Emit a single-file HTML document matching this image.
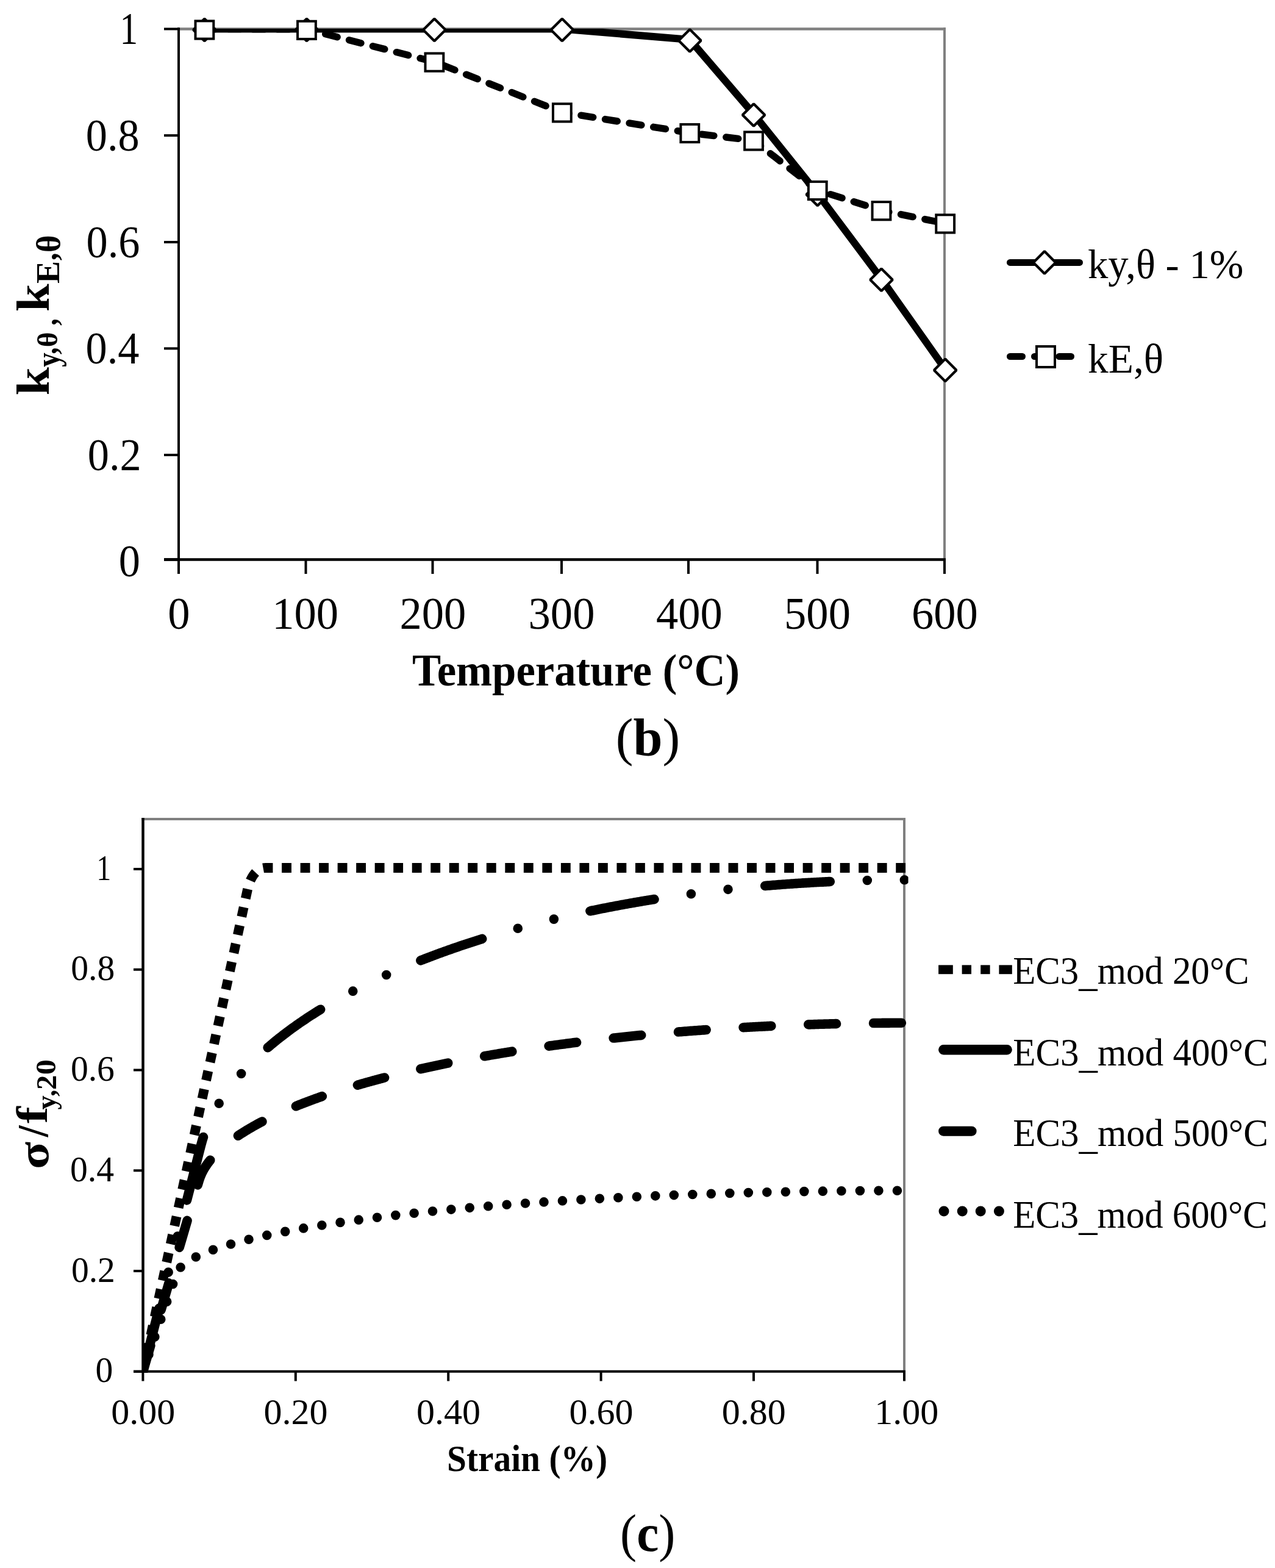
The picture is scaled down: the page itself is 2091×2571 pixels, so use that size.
<!DOCTYPE html>
<html><head><meta charset="utf-8"><title>EC3 reduction factors and stress-strain curves</title>
<style>html,body{margin:0;padding:0;background:#fff}svg{display:block}text{font-family:'Liberation Serif', 'Times New Roman', serif;fill:#000}</style>
</head><body>
<svg width="2091" height="2571" viewBox="0 0 2091 2571">
<rect width="2091" height="2571" fill="#fff"/>
<line x1="291.00" y1="47.50" x2="1551.00" y2="47.50" stroke="#808080" stroke-width="4.5" />
<line x1="1549.00" y1="45.30" x2="1549.00" y2="917.50" stroke="#808080" stroke-width="4" />
<line x1="293.00" y1="45.30" x2="293.00" y2="920.00" stroke="#000" stroke-width="4" />
<line x1="269.00" y1="917.50" x2="1551.00" y2="917.50" stroke="#000" stroke-width="4.5" />
<line x1="269.00" y1="746.00" x2="293.00" y2="746.00" stroke="#000" stroke-width="4" />
<line x1="269.00" y1="571.40" x2="293.00" y2="571.40" stroke="#000" stroke-width="4" />
<line x1="269.00" y1="397.00" x2="293.00" y2="397.00" stroke="#000" stroke-width="4" />
<line x1="269.00" y1="222.10" x2="293.00" y2="222.10" stroke="#000" stroke-width="4" />
<line x1="269.00" y1="47.50" x2="293.00" y2="47.50" stroke="#000" stroke-width="4" />
<line x1="269.00" y1="917.50" x2="293.00" y2="917.50" stroke="#000" stroke-width="4.5" />
<line x1="293.00" y1="917.50" x2="293.00" y2="941.00" stroke="#000" stroke-width="4" />
<line x1="501.50" y1="917.50" x2="501.50" y2="941.00" stroke="#000" stroke-width="4" />
<line x1="709.50" y1="917.50" x2="709.50" y2="941.00" stroke="#000" stroke-width="4" />
<line x1="921.00" y1="917.50" x2="921.00" y2="941.00" stroke="#000" stroke-width="4" />
<line x1="1129.00" y1="917.50" x2="1129.00" y2="941.00" stroke="#000" stroke-width="4" />
<line x1="1340.50" y1="917.50" x2="1340.50" y2="941.00" stroke="#000" stroke-width="4" />
<line x1="1549.00" y1="917.50" x2="1549.00" y2="941.00" stroke="#000" stroke-width="4" />
<clipPath id="cb"><rect x="293" y="47" width="1258" height="872"/></clipPath>
<polyline points="335.39,47.50 502.95,47.90 712.40,101.50 921.85,184.20 1131.30,217.90 1236.03,230.40 1340.75,311.90 1445.47,345.10 1550.20,366.30" fill="none" stroke="#000" stroke-width="11.4" stroke-linecap="round" stroke-linejoin="round" stroke-dasharray="20.05 20.05" stroke-dashoffset="1.2" clip-path="url(#cb)"/>
<polyline points="335.39,47.50 502.95,47.50 712.40,47.50 921.85,47.50 1131.30,65.00 1236.03,187.00 1340.75,317.50 1445.47,457.30 1550.20,605.40" fill="none" stroke="#000" stroke-width="12" stroke-linejoin="round" clip-path="url(#cb)"/>
<path d="M335.39,30.70L353.69,49.00L335.39,67.30L317.09,49.00Z" fill="#fff" stroke="#000" stroke-width="4.3" stroke-miterlimit="1.3"/>
<path d="M502.95,30.70L521.25,49.00L502.95,67.30L484.65,49.00Z" fill="#fff" stroke="#000" stroke-width="4.3" stroke-miterlimit="1.3"/>
<path d="M712.40,30.70L730.70,49.00L712.40,67.30L694.10,49.00Z" fill="#fff" stroke="#000" stroke-width="4.3" stroke-miterlimit="1.3"/>
<path d="M921.85,30.70L940.15,49.00L921.85,67.30L903.55,49.00Z" fill="#fff" stroke="#000" stroke-width="4.3" stroke-miterlimit="1.3"/>
<path d="M1131.30,48.20L1149.60,66.50L1131.30,84.80L1113.00,66.50Z" fill="#fff" stroke="#000" stroke-width="4.3" stroke-miterlimit="1.3"/>
<path d="M1236.03,170.20L1254.33,188.50L1236.03,206.80L1217.73,188.50Z" fill="#fff" stroke="#000" stroke-width="4.3" stroke-miterlimit="1.3"/>
<path d="M1340.75,300.70L1359.05,319.00L1340.75,337.30L1322.45,319.00Z" fill="#fff" stroke="#000" stroke-width="4.3" stroke-miterlimit="1.3"/>
<path d="M1445.47,440.50L1463.77,458.80L1445.47,477.10L1427.17,458.80Z" fill="#fff" stroke="#000" stroke-width="4.3" stroke-miterlimit="1.3"/>
<path d="M1550.20,588.60L1568.50,606.90L1550.20,625.20L1531.90,606.90Z" fill="#fff" stroke="#000" stroke-width="4.3" stroke-miterlimit="1.3"/>
<rect x="320.49" y="34.40" width="29.8" height="29.2" fill="#fff" stroke="#000" stroke-width="4"/>
<rect x="488.05" y="34.80" width="29.8" height="29.2" fill="#fff" stroke="#000" stroke-width="4"/>
<rect x="697.50" y="87.50" width="29.8" height="29.2" fill="#fff" stroke="#000" stroke-width="4"/>
<rect x="906.95" y="170.20" width="29.8" height="29.2" fill="#fff" stroke="#000" stroke-width="4"/>
<rect x="1116.40" y="203.90" width="29.8" height="29.2" fill="#fff" stroke="#000" stroke-width="4"/>
<rect x="1221.12" y="216.40" width="29.8" height="29.2" fill="#fff" stroke="#000" stroke-width="4"/>
<rect x="1325.85" y="297.90" width="29.8" height="29.2" fill="#fff" stroke="#000" stroke-width="4"/>
<rect x="1430.57" y="331.10" width="29.8" height="29.2" fill="#fff" stroke="#000" stroke-width="4"/>
<rect x="1535.30" y="352.30" width="29.8" height="29.2" fill="#fff" stroke="#000" stroke-width="4"/>
<line x1="1656.50" y1="430.40" x2="1770.50" y2="430.40" stroke="#000" stroke-width="11" stroke-linecap="round"/>
<path d="M1713.00,412.10L1731.30,430.40L1713.00,448.70L1694.70,430.40Z" fill="#fff" stroke="#000" stroke-width="4.3" stroke-miterlimit="1.3"/>
<line x1="1656.50" y1="584.50" x2="1676.50" y2="584.50" stroke="#000" stroke-width="11" stroke-linecap="round"/>
<line x1="1696.50" y1="584.50" x2="1716.50" y2="584.50" stroke="#000" stroke-width="11" stroke-linecap="round"/>
<line x1="1737.00" y1="584.50" x2="1756.50" y2="584.50" stroke="#000" stroke-width="11" stroke-linecap="round"/>
<rect x="1700.00" y="568.00" width="30" height="34" fill="#fff" stroke="#000" stroke-width="4"/>
<line x1="232.00" y1="1343.00" x2="1485.00" y2="1343.00" stroke="#808080" stroke-width="4" />
<line x1="1483.00" y1="1341.00" x2="1483.00" y2="2249.00" stroke="#808080" stroke-width="4" />
<line x1="234.50" y1="1341.00" x2="234.50" y2="2251.00" stroke="#000" stroke-width="4.5" />
<line x1="219.00" y1="2248.80" x2="1485.00" y2="2248.80" stroke="#000" stroke-width="4" />
<line x1="219.00" y1="2248.80" x2="234.50" y2="2248.80" stroke="#000" stroke-width="4" />
<line x1="219.00" y1="2084.04" x2="234.50" y2="2084.04" stroke="#000" stroke-width="4" />
<line x1="219.00" y1="1919.28" x2="234.50" y2="1919.28" stroke="#000" stroke-width="4" />
<line x1="219.00" y1="1754.52" x2="234.50" y2="1754.52" stroke="#000" stroke-width="4" />
<line x1="219.00" y1="1589.76" x2="234.50" y2="1589.76" stroke="#000" stroke-width="4" />
<line x1="219.00" y1="1425.00" x2="234.50" y2="1425.00" stroke="#000" stroke-width="4" />
<line x1="234.40" y1="2248.80" x2="234.40" y2="2264.50" stroke="#000" stroke-width="4" />
<line x1="484.80" y1="2248.80" x2="484.80" y2="2264.50" stroke="#000" stroke-width="4" />
<line x1="735.20" y1="2248.80" x2="735.20" y2="2264.50" stroke="#000" stroke-width="4" />
<line x1="985.60" y1="2248.80" x2="985.60" y2="2264.50" stroke="#000" stroke-width="4" />
<line x1="1236.00" y1="2248.80" x2="1236.00" y2="2264.50" stroke="#000" stroke-width="4" />
<line x1="1483.00" y1="2248.80" x2="1483.00" y2="2264.50" stroke="#000" stroke-width="4" />
<clipPath id="cc"><rect x="234" y="1341" width="1255.5" height="910"/></clipPath>
<path d="M234.40,2248.80 L252.77,2195.25 L271.13,2141.71 L289.50,2088.16 L291.90,2083.26 L294.30,2080.00 L296.69,2077.37 L299.09,2075.11 L301.49,2073.10 L303.89,2071.28 L306.29,2069.59 L308.69,2068.01 L311.09,2066.53 L313.48,2065.13 L315.88,2063.79 L318.28,2062.51 L320.68,2061.29 L323.08,2060.11 L325.48,2058.98 L327.88,2057.88 L330.27,2056.82 L332.67,2055.79 L335.07,2054.79 L337.47,2053.81 L339.87,2052.86 L342.27,2051.94 L344.67,2051.03 L347.06,2050.15 L349.46,2049.29 L351.86,2048.44 L354.26,2047.61 L356.66,2046.80 L359.06,2046.00 L361.46,2045.22 L363.85,2044.45 L366.25,2043.70 L368.65,2042.95 L371.05,2042.22 L373.45,2041.51 L375.85,2040.80 L378.25,2040.10 L380.65,2039.42 L383.04,2038.74 L385.44,2038.07 L387.84,2037.42 L390.24,2036.77 L392.64,2036.13 L395.04,2035.50 L397.44,2034.88 L399.83,2034.26 L402.23,2033.65 L404.63,2033.05 L407.03,2032.46 L409.43,2031.87 L411.83,2031.30 L414.23,2030.72 L416.62,2030.16 L419.02,2029.60 L421.42,2029.04 L423.82,2028.50 L426.22,2027.95 L428.62,2027.42 L431.02,2026.89 L433.41,2026.36 L435.81,2025.84 L438.21,2025.32 L440.61,2024.81 L443.01,2024.31 L445.41,2023.81 L447.81,2023.31 L450.20,2022.82 L452.60,2022.33 L455.00,2021.85 L457.40,2021.37 L459.80,2020.90 L462.20,2020.43 L464.60,2019.96 L466.99,2019.50 L469.39,2019.04 L471.79,2018.59 L474.19,2018.14 L476.59,2017.69 L478.99,2017.25 L481.39,2016.81 L483.78,2016.38 L486.18,2015.94 L488.58,2015.52 L490.98,2015.09 L493.38,2014.67 L495.78,2014.25 L498.18,2013.83 L500.58,2013.42 L502.97,2013.01 L505.37,2012.61 L507.77,2012.20 L510.17,2011.80 L512.57,2011.40 L514.97,2011.01 L517.37,2010.62 L519.76,2010.23 L522.16,2009.84 L524.56,2009.46 L526.96,2009.08 L529.36,2008.70 L531.76,2008.32 L534.16,2007.95 L536.55,2007.58 L538.95,2007.21 L541.35,2006.85 L543.75,2006.48 L546.15,2006.12 L548.55,2005.77 L550.95,2005.41 L553.34,2005.06 L555.74,2004.71 L558.14,2004.36 L560.54,2004.01 L562.94,2003.67 L565.34,2003.32 L567.74,2002.98 L570.13,2002.65 L572.53,2002.31 L574.93,2001.98 L577.33,2001.64 L579.73,2001.31 L582.13,2000.99 L584.53,2000.66 L586.92,2000.34 L589.32,2000.02 L591.72,1999.70 L594.12,1999.38 L596.52,1999.06 L598.92,1998.75 L601.32,1998.44 L603.71,1998.13 L606.11,1997.82 L608.51,1997.51 L610.91,1997.21 L613.31,1996.91 L615.71,1996.60 L618.11,1996.30 L620.51,1996.01 L622.90,1995.71 L625.30,1995.42 L627.70,1995.12 L630.10,1994.83 L632.50,1994.54 L634.90,1994.26 L637.30,1993.97 L639.69,1993.69 L642.09,1993.40 L644.49,1993.12 L646.89,1992.84 L649.29,1992.57 L651.69,1992.29 L654.09,1992.01 L656.48,1991.74 L658.88,1991.47 L661.28,1991.20 L663.68,1990.93 L666.08,1990.66 L668.48,1990.40 L670.88,1990.13 L673.27,1989.87 L675.67,1989.61 L678.07,1989.35 L680.47,1989.09 L682.87,1988.83 L685.27,1988.58 L687.67,1988.32 L690.06,1988.07 L692.46,1987.82 L694.86,1987.57 L697.26,1987.32 L699.66,1987.07 L702.06,1986.82 L704.46,1986.58 L706.85,1986.33 L709.25,1986.09 L711.65,1985.85 L714.05,1985.61 L716.45,1985.37 L718.85,1985.14 L721.25,1984.90 L723.64,1984.66 L726.04,1984.43 L728.44,1984.20 L730.84,1983.97 L733.24,1983.74 L735.64,1983.51 L738.04,1983.28 L740.44,1983.05 L742.83,1982.83 L745.23,1982.61 L747.63,1982.38 L750.03,1982.16 L752.43,1981.94 L754.83,1981.72 L757.23,1981.50 L759.62,1981.29 L762.02,1981.07 L764.42,1980.85 L766.82,1980.64 L769.22,1980.43 L771.62,1980.22 L774.02,1980.01 L776.41,1979.80 L778.81,1979.59 L781.21,1979.38 L783.61,1979.18 L786.01,1978.97 L788.41,1978.77 L790.81,1978.56 L793.20,1978.36 L795.60,1978.16 L798.00,1977.96 L800.40,1977.76 L802.80,1977.57 L805.20,1977.37 L807.60,1977.17 L809.99,1976.98 L812.39,1976.79 L814.79,1976.59 L817.19,1976.40 L819.59,1976.21 L821.99,1976.02 L824.39,1975.83 L826.78,1975.64 L829.18,1975.46 L831.58,1975.27 L833.98,1975.09 L836.38,1974.90 L838.78,1974.72 L841.18,1974.54 L843.57,1974.36 L845.97,1974.18 L848.37,1974.00 L850.77,1973.82 L853.17,1973.64 L855.57,1973.47 L857.97,1973.29 L860.37,1973.12 L862.76,1972.95 L865.16,1972.77 L867.56,1972.60 L869.96,1972.43 L872.36,1972.26 L874.76,1972.09 L877.16,1971.92 L879.55,1971.76 L881.95,1971.59 L884.35,1971.42 L886.75,1971.26 L889.15,1971.10 L891.55,1970.93 L893.95,1970.77 L896.34,1970.61 L898.74,1970.45 L901.14,1970.29 L903.54,1970.13 L905.94,1969.98 L908.34,1969.82 L910.74,1969.66 L913.13,1969.51 L915.53,1969.35 L917.93,1969.20 L920.33,1969.05 L922.73,1968.90 L925.13,1968.75 L927.53,1968.60 L929.92,1968.45 L932.32,1968.30 L934.72,1968.15 L937.12,1968.00 L939.52,1967.86 L941.92,1967.71 L944.32,1967.57 L946.71,1967.42 L949.11,1967.28 L951.51,1967.14 L953.91,1967.00 L956.31,1966.86 L958.71,1966.72 L961.11,1966.58 L963.51,1966.44 L965.90,1966.30 L968.30,1966.17 L970.70,1966.03 L973.10,1965.90 L975.50,1965.76 L977.90,1965.63 L980.30,1965.50 L982.69,1965.37 L985.09,1965.23 L987.49,1965.10 L989.89,1964.97 L992.29,1964.85 L994.69,1964.72 L997.09,1964.59 L999.48,1964.46 L1001.88,1964.34 L1004.28,1964.21 L1006.68,1964.09 L1009.08,1963.96 L1011.48,1963.84 L1013.88,1963.72 L1016.27,1963.60 L1018.67,1963.48 L1021.07,1963.36 L1023.47,1963.24 L1025.87,1963.12 L1028.27,1963.00 L1030.67,1962.89 L1033.06,1962.77 L1035.46,1962.65 L1037.86,1962.54 L1040.26,1962.42 L1042.66,1962.31 L1045.06,1962.20 L1047.46,1962.09 L1049.85,1961.97 L1052.25,1961.86 L1054.65,1961.75 L1057.05,1961.64 L1059.45,1961.54 L1061.85,1961.43 L1064.25,1961.32 L1066.64,1961.21 L1069.04,1961.11 L1071.44,1961.00 L1073.84,1960.90 L1076.24,1960.80 L1078.64,1960.69 L1081.04,1960.59 L1083.44,1960.49 L1085.83,1960.39 L1088.23,1960.29 L1090.63,1960.19 L1093.03,1960.09 L1095.43,1959.99 L1097.83,1959.89 L1100.23,1959.80 L1102.62,1959.70 L1105.02,1959.60 L1107.42,1959.51 L1109.82,1959.41 L1112.22,1959.32 L1114.62,1959.23 L1117.02,1959.14 L1119.41,1959.04 L1121.81,1958.95 L1124.21,1958.86 L1126.61,1958.77 L1129.01,1958.68 L1131.41,1958.60 L1133.81,1958.51 L1136.20,1958.42 L1138.60,1958.33 L1141.00,1958.25 L1143.40,1958.16 L1145.80,1958.08 L1148.20,1958.00 L1150.60,1957.91 L1152.99,1957.83 L1155.39,1957.75 L1157.79,1957.67 L1160.19,1957.59 L1162.59,1957.51 L1164.99,1957.43 L1167.39,1957.35 L1169.78,1957.27 L1172.18,1957.19 L1174.58,1957.12 L1176.98,1957.04 L1179.38,1956.96 L1181.78,1956.89 L1184.18,1956.82 L1186.57,1956.74 L1188.97,1956.67 L1191.37,1956.60 L1193.77,1956.52 L1196.17,1956.45 L1198.57,1956.38 L1200.97,1956.31 L1203.37,1956.24 L1205.76,1956.17 L1208.16,1956.11 L1210.56,1956.04 L1212.96,1955.97 L1215.36,1955.91 L1217.76,1955.84 L1220.16,1955.78 L1222.55,1955.71 L1224.95,1955.65 L1227.35,1955.58 L1229.75,1955.52 L1232.15,1955.46 L1234.55,1955.40 L1236.95,1955.34 L1239.34,1955.28 L1241.74,1955.22 L1244.14,1955.16 L1246.54,1955.10 L1248.94,1955.04 L1251.34,1954.99 L1253.74,1954.93 L1256.13,1954.87 L1258.53,1954.82 L1260.93,1954.76 L1263.33,1954.71 L1265.73,1954.66 L1268.13,1954.60 L1270.53,1954.55 L1272.92,1954.50 L1275.32,1954.45 L1277.72,1954.40 L1280.12,1954.35 L1282.52,1954.30 L1284.92,1954.25 L1287.32,1954.20 L1289.71,1954.15 L1292.11,1954.11 L1294.51,1954.06 L1296.91,1954.02 L1299.31,1953.97 L1301.71,1953.93 L1304.11,1953.88 L1306.50,1953.84 L1308.90,1953.80 L1311.30,1953.75 L1313.70,1953.71 L1316.10,1953.67 L1318.50,1953.63 L1320.90,1953.59 L1323.30,1953.55 L1325.69,1953.51 L1328.09,1953.47 L1330.49,1953.44 L1332.89,1953.40 L1335.29,1953.36 L1337.69,1953.33 L1340.09,1953.29 L1342.48,1953.26 L1344.88,1953.22 L1347.28,1953.19 L1349.68,1953.16 L1352.08,1953.13 L1354.48,1953.09 L1356.88,1953.06 L1359.27,1953.03 L1361.67,1953.00 L1364.07,1952.97 L1366.47,1952.94 L1368.87,1952.92 L1371.27,1952.89 L1373.67,1952.86 L1376.06,1952.83 L1378.46,1952.81 L1380.86,1952.78 L1383.26,1952.76 L1385.66,1952.73 L1388.06,1952.71 L1390.46,1952.69 L1392.85,1952.66 L1395.25,1952.64 L1397.65,1952.62 L1400.05,1952.60 L1402.45,1952.58 L1404.85,1952.56 L1407.25,1952.54 L1409.64,1952.52 L1412.04,1952.51 L1414.44,1952.49 L1416.84,1952.47 L1419.24,1952.45 L1421.64,1952.44 L1424.04,1952.42 L1426.43,1952.41 L1428.83,1952.40 L1431.23,1952.38 L1433.63,1952.37 L1436.03,1952.36 L1438.43,1952.35 L1440.83,1952.33 L1443.23,1952.32 L1445.62,1952.31 L1448.02,1952.30 L1450.42,1952.30 L1452.82,1952.29 L1455.22,1952.28 L1457.62,1952.27 L1460.02,1952.27 L1462.41,1952.26 L1464.81,1952.26 L1467.21,1952.25 L1469.61,1952.25 L1472.01,1952.24 L1474.41,1952.24 L1476.81,1952.24 L1479.20,1952.23 L1481.60,1952.23 L1484.00,1952.23 L1486.40,1952.23" fill="none" stroke="#000" stroke-width="15.6" stroke-linecap="round" stroke-linejoin="round" stroke-dasharray="0 30.520" stroke-dashoffset="1.09" clip-path="url(#cc)"/>
<path d="M234.40,2248.80 L265.04,2144.45 L295.69,2040.10 L326.33,1935.76 L328.66,1929.02 L330.98,1923.69 L333.31,1919.16 L335.63,1915.14 L337.96,1911.49 L340.28,1908.14 L342.61,1905.01 L344.93,1902.07 L347.26,1899.30 L349.58,1896.66 L351.91,1894.14 L354.23,1891.72 L356.56,1889.40 L358.88,1887.16 L361.21,1884.99 L363.53,1882.90 L365.86,1880.87 L368.18,1878.89 L370.51,1876.97 L372.83,1875.10 L375.15,1873.28 L377.48,1871.50 L379.80,1869.76 L382.13,1868.06 L384.45,1866.39 L386.78,1864.76 L389.10,1863.16 L391.43,1861.60 L393.75,1860.06 L396.08,1858.54 L398.40,1857.06 L400.73,1855.60 L403.05,1854.16 L405.38,1852.75 L407.70,1851.36 L410.03,1849.99 L412.35,1848.64 L414.68,1847.32 L417.00,1846.01 L419.33,1844.71 L421.65,1843.44 L423.98,1842.18 L426.30,1840.94 L428.62,1839.72 L430.95,1838.51 L433.27,1837.32 L435.60,1836.14 L437.92,1834.97 L440.25,1833.82 L442.57,1832.68 L444.90,1831.56 L447.22,1830.44 L449.55,1829.34 L451.87,1828.26 L454.20,1827.18 L456.52,1826.11 L458.85,1825.06 L461.17,1824.02 L463.50,1822.98 L465.82,1821.96 L468.15,1820.95 L470.47,1819.95 L472.80,1818.95 L475.12,1817.97 L477.45,1817.00 L479.77,1816.03 L482.09,1815.08 L484.42,1814.13 L486.74,1813.19 L489.07,1812.26 L491.39,1811.34 L493.72,1810.42 L496.04,1809.51 L498.37,1808.62 L500.69,1807.72 L503.02,1806.84 L505.34,1805.96 L507.67,1805.09 L509.99,1804.23 L512.32,1803.38 L514.64,1802.53 L516.97,1801.69 L519.29,1800.85 L521.62,1800.02 L523.94,1799.20 L526.27,1798.38 L528.59,1797.57 L530.92,1796.77 L533.24,1795.97 L535.56,1795.18 L537.89,1794.39 L540.21,1793.61 L542.54,1792.84 L544.86,1792.07 L547.19,1791.30 L549.51,1790.55 L551.84,1789.79 L554.16,1789.04 L556.49,1788.30 L558.81,1787.56 L561.14,1786.83 L563.46,1786.10 L565.79,1785.38 L568.11,1784.66 L570.44,1783.95 L572.76,1783.24 L575.09,1782.54 L577.41,1781.84 L579.74,1781.15 L582.06,1780.46 L584.38,1779.77 L586.71,1779.09 L589.03,1778.42 L591.36,1777.74 L593.68,1777.08 L596.01,1776.41 L598.33,1775.75 L600.66,1775.10 L602.98,1774.45 L605.31,1773.80 L607.63,1773.16 L609.96,1772.52 L612.28,1771.88 L614.61,1771.25 L616.93,1770.62 L619.26,1770.00 L621.58,1769.38 L623.91,1768.76 L626.23,1768.15 L628.56,1767.54 L630.88,1766.94 L633.21,1766.34 L635.53,1765.74 L637.85,1765.14 L640.18,1764.55 L642.50,1763.96 L644.83,1763.38 L647.15,1762.80 L649.48,1762.22 L651.80,1761.65 L654.13,1761.07 L656.45,1760.51 L658.78,1759.94 L661.10,1759.38 L663.43,1758.82 L665.75,1758.27 L668.08,1757.72 L670.40,1757.17 L672.73,1756.62 L675.05,1756.08 L677.38,1755.54 L679.70,1755.00 L682.03,1754.47 L684.35,1753.94 L686.68,1753.41 L689.00,1752.89 L691.32,1752.36 L693.65,1751.84 L695.97,1751.33 L698.30,1750.81 L700.62,1750.30 L702.95,1749.80 L705.27,1749.29 L707.60,1748.79 L709.92,1748.29 L712.25,1747.79 L714.57,1747.30 L716.90,1746.80 L719.22,1746.32 L721.55,1745.83 L723.87,1745.35 L726.20,1744.86 L728.52,1744.39 L730.85,1743.91 L733.17,1743.44 L735.50,1742.96 L737.82,1742.50 L740.15,1742.03 L742.47,1741.57 L744.79,1741.10 L747.12,1740.65 L749.44,1740.19 L751.77,1739.74 L754.09,1739.28 L756.42,1738.83 L758.74,1738.39 L761.07,1737.94 L763.39,1737.50 L765.72,1737.06 L768.04,1736.62 L770.37,1736.19 L772.69,1735.75 L775.02,1735.32 L777.34,1734.90 L779.67,1734.47 L781.99,1734.04 L784.32,1733.62 L786.64,1733.20 L788.97,1732.79 L791.29,1732.37 L793.62,1731.96 L795.94,1731.55 L798.26,1731.14 L800.59,1730.73 L802.91,1730.33 L805.24,1729.92 L807.56,1729.52 L809.89,1729.12 L812.21,1728.73 L814.54,1728.33 L816.86,1727.94 L819.19,1727.55 L821.51,1727.16 L823.84,1726.78 L826.16,1726.39 L828.49,1726.01 L830.81,1725.63 L833.14,1725.25 L835.46,1724.87 L837.79,1724.50 L840.11,1724.13 L842.44,1723.76 L844.76,1723.39 L847.09,1723.02 L849.41,1722.66 L851.73,1722.29 L854.06,1721.93 L856.38,1721.57 L858.71,1721.22 L861.03,1720.86 L863.36,1720.51 L865.68,1720.16 L868.01,1719.81 L870.33,1719.46 L872.66,1719.11 L874.98,1718.77 L877.31,1718.43 L879.63,1718.08 L881.96,1717.75 L884.28,1717.41 L886.61,1717.07 L888.93,1716.74 L891.26,1716.41 L893.58,1716.08 L895.91,1715.75 L898.23,1715.42 L900.56,1715.10 L902.88,1714.77 L905.20,1714.45 L907.53,1714.13 L909.85,1713.81 L912.18,1713.50 L914.50,1713.18 L916.83,1712.87 L919.15,1712.56 L921.48,1712.25 L923.80,1711.94 L926.13,1711.64 L928.45,1711.33 L930.78,1711.03 L933.10,1710.73 L935.43,1710.43 L937.75,1710.13 L940.08,1709.83 L942.40,1709.54 L944.73,1709.24 L947.05,1708.95 L949.38,1708.66 L951.70,1708.37 L954.03,1708.09 L956.35,1707.80 L958.67,1707.52 L961.00,1707.23 L963.32,1706.95 L965.65,1706.68 L967.97,1706.40 L970.30,1706.12 L972.62,1705.85 L974.95,1705.57 L977.27,1705.30 L979.60,1705.03 L981.92,1704.76 L984.25,1704.50 L986.57,1704.23 L988.90,1703.97 L991.22,1703.71 L993.55,1703.45 L995.87,1703.19 L998.20,1702.93 L1000.52,1702.67 L1002.85,1702.42 L1005.17,1702.16 L1007.50,1701.91 L1009.82,1701.66 L1012.14,1701.41 L1014.47,1701.17 L1016.79,1700.92 L1019.12,1700.68 L1021.44,1700.43 L1023.77,1700.19 L1026.09,1699.95 L1028.42,1699.71 L1030.74,1699.47 L1033.07,1699.24 L1035.39,1699.00 L1037.72,1698.77 L1040.04,1698.54 L1042.37,1698.31 L1044.69,1698.08 L1047.02,1697.85 L1049.34,1697.63 L1051.67,1697.40 L1053.99,1697.18 L1056.32,1696.96 L1058.64,1696.74 L1060.97,1696.52 L1063.29,1696.30 L1065.61,1696.08 L1067.94,1695.87 L1070.26,1695.65 L1072.59,1695.44 L1074.91,1695.23 L1077.24,1695.02 L1079.56,1694.81 L1081.89,1694.61 L1084.21,1694.40 L1086.54,1694.20 L1088.86,1693.99 L1091.19,1693.79 L1093.51,1693.59 L1095.84,1693.39 L1098.16,1693.20 L1100.49,1693.00 L1102.81,1692.80 L1105.14,1692.61 L1107.46,1692.42 L1109.79,1692.23 L1112.11,1692.04 L1114.44,1691.85 L1116.76,1691.66 L1119.08,1691.48 L1121.41,1691.29 L1123.73,1691.11 L1126.06,1690.93 L1128.38,1690.75 L1130.71,1690.57 L1133.03,1690.39 L1135.36,1690.21 L1137.68,1690.04 L1140.01,1689.87 L1142.33,1689.69 L1144.66,1689.52 L1146.98,1689.35 L1149.31,1689.18 L1151.63,1689.01 L1153.96,1688.85 L1156.28,1688.68 L1158.61,1688.52 L1160.93,1688.36 L1163.26,1688.19 L1165.58,1688.03 L1167.91,1687.88 L1170.23,1687.72 L1172.55,1687.56 L1174.88,1687.41 L1177.20,1687.25 L1179.53,1687.10 L1181.85,1686.95 L1184.18,1686.80 L1186.50,1686.65 L1188.83,1686.50 L1191.15,1686.36 L1193.48,1686.21 L1195.80,1686.07 L1198.13,1685.92 L1200.45,1685.78 L1202.78,1685.64 L1205.10,1685.50 L1207.43,1685.36 L1209.75,1685.23 L1212.08,1685.09 L1214.40,1684.96 L1216.73,1684.82 L1219.05,1684.69 L1221.37,1684.56 L1223.70,1684.43 L1226.02,1684.30 L1228.35,1684.18 L1230.67,1684.05 L1233.00,1683.93 L1235.32,1683.80 L1237.65,1683.68 L1239.97,1683.56 L1242.30,1683.44 L1244.62,1683.32 L1246.95,1683.20 L1249.27,1683.09 L1251.60,1682.97 L1253.92,1682.86 L1256.25,1682.75 L1258.57,1682.63 L1260.90,1682.52 L1263.22,1682.41 L1265.55,1682.31 L1267.87,1682.20 L1270.20,1682.09 L1272.52,1681.99 L1274.84,1681.89 L1277.17,1681.78 L1279.49,1681.68 L1281.82,1681.58 L1284.14,1681.48 L1286.47,1681.39 L1288.79,1681.29 L1291.12,1681.19 L1293.44,1681.10 L1295.77,1681.01 L1298.09,1680.92 L1300.42,1680.83 L1302.74,1680.74 L1305.07,1680.65 L1307.39,1680.56 L1309.72,1680.47 L1312.04,1680.39 L1314.37,1680.31 L1316.69,1680.22 L1319.02,1680.14 L1321.34,1680.06 L1323.67,1679.98 L1325.99,1679.90 L1328.31,1679.83 L1330.64,1679.75 L1332.96,1679.68 L1335.29,1679.60 L1337.61,1679.53 L1339.94,1679.46 L1342.26,1679.39 L1344.59,1679.32 L1346.91,1679.25 L1349.24,1679.19 L1351.56,1679.12 L1353.89,1679.06 L1356.21,1678.99 L1358.54,1678.93 L1360.86,1678.87 L1363.19,1678.81 L1365.51,1678.75 L1367.84,1678.70 L1370.16,1678.64 L1372.49,1678.58 L1374.81,1678.53 L1377.14,1678.48 L1379.46,1678.43 L1381.78,1678.37 L1384.11,1678.32 L1386.43,1678.28 L1388.76,1678.23 L1391.08,1678.18 L1393.41,1678.14 L1395.73,1678.09 L1398.06,1678.05 L1400.38,1678.01 L1402.71,1677.97 L1405.03,1677.93 L1407.36,1677.89 L1409.68,1677.85 L1412.01,1677.82 L1414.33,1677.78 L1416.66,1677.75 L1418.98,1677.72 L1421.31,1677.68 L1423.63,1677.65 L1425.96,1677.62 L1428.28,1677.59 L1430.61,1677.57 L1432.93,1677.54 L1435.25,1677.52 L1437.58,1677.49 L1439.90,1677.47 L1442.23,1677.45 L1444.55,1677.43 L1446.88,1677.41 L1449.20,1677.39 L1451.53,1677.37 L1453.85,1677.36 L1456.18,1677.34 L1458.50,1677.33 L1460.83,1677.31 L1463.15,1677.30 L1465.48,1677.29 L1467.80,1677.28 L1470.13,1677.27 L1472.45,1677.27 L1474.78,1677.26 L1477.10,1677.26 L1479.43,1677.25 L1481.75,1677.25 L1484.08,1677.25 L1486.40,1677.25" fill="none" stroke="#000" stroke-width="15.6" stroke-linecap="round" stroke-linejoin="round" stroke-dasharray="45.780 61.040" stroke-dashoffset="1.60" clip-path="url(#cc)"/>
<path d="M234.40,2248.80 L266.10,2125.23 L297.79,2001.66 L329.49,1878.09 L331.81,1869.73 L334.13,1862.41 L336.44,1855.82 L338.76,1849.78 L341.08,1844.17 L343.40,1838.92 L345.72,1833.96 L348.04,1829.26 L350.35,1824.77 L352.67,1820.48 L354.99,1816.35 L357.31,1812.38 L359.63,1808.55 L361.95,1804.84 L364.27,1801.24 L366.58,1797.75 L368.90,1794.36 L371.22,1791.05 L373.54,1787.83 L375.86,1784.69 L378.18,1781.62 L380.49,1778.62 L382.81,1775.68 L385.13,1772.80 L387.45,1769.98 L389.77,1767.22 L392.09,1764.51 L394.41,1761.84 L396.72,1759.23 L399.04,1756.65 L401.36,1754.12 L403.68,1751.64 L406.00,1749.19 L408.32,1746.78 L410.63,1744.40 L412.95,1742.07 L415.27,1739.76 L417.59,1737.49 L419.91,1735.25 L422.23,1733.03 L424.55,1730.85 L426.86,1728.70 L429.18,1726.57 L431.50,1724.47 L433.82,1722.40 L436.14,1720.35 L438.46,1718.32 L440.77,1716.32 L443.09,1714.35 L445.41,1712.39 L447.73,1710.46 L450.05,1708.54 L452.37,1706.65 L454.69,1704.78 L457.00,1702.92 L459.32,1701.09 L461.64,1699.28 L463.96,1697.48 L466.28,1695.70 L468.60,1693.94 L470.91,1692.19 L473.23,1690.47 L475.55,1688.75 L477.87,1687.06 L480.19,1685.38 L482.51,1683.71 L484.83,1682.06 L487.14,1680.43 L489.46,1678.81 L491.78,1677.20 L494.10,1675.61 L496.42,1674.03 L498.74,1672.46 L501.05,1670.91 L503.37,1669.37 L505.69,1667.84 L508.01,1666.33 L510.33,1664.82 L512.65,1663.33 L514.97,1661.85 L517.28,1660.39 L519.60,1658.93 L521.92,1657.48 L524.24,1656.05 L526.56,1654.63 L528.88,1653.22 L531.19,1651.81 L533.51,1650.42 L535.83,1649.04 L538.15,1647.67 L540.47,1646.31 L542.79,1644.96 L545.11,1643.62 L547.42,1642.29 L549.74,1640.96 L552.06,1639.65 L554.38,1638.35 L556.70,1637.05 L559.02,1635.77 L561.33,1634.49 L563.65,1633.22 L565.97,1631.96 L568.29,1630.71 L570.61,1629.46 L572.93,1628.23 L575.25,1627.00 L577.56,1625.78 L579.88,1624.57 L582.20,1623.37 L584.52,1622.17 L586.84,1620.99 L589.16,1619.81 L591.47,1618.63 L593.79,1617.47 L596.11,1616.31 L598.43,1615.16 L600.75,1614.02 L603.07,1612.88 L605.39,1611.75 L607.70,1610.63 L610.02,1609.51 L612.34,1608.40 L614.66,1607.30 L616.98,1606.21 L619.30,1605.12 L621.61,1604.04 L623.93,1602.96 L626.25,1601.89 L628.57,1600.83 L630.89,1599.77 L633.21,1598.72 L635.53,1597.68 L637.84,1596.64 L640.16,1595.61 L642.48,1594.58 L644.80,1593.56 L647.12,1592.54 L649.44,1591.54 L651.75,1590.53 L654.07,1589.54 L656.39,1588.55 L658.71,1587.56 L661.03,1586.58 L663.35,1585.60 L665.67,1584.64 L667.98,1583.67 L670.30,1582.71 L672.62,1581.76 L674.94,1580.81 L677.26,1579.87 L679.58,1578.93 L681.89,1578.00 L684.21,1577.07 L686.53,1576.15 L688.85,1575.23 L691.17,1574.32 L693.49,1573.42 L695.81,1572.51 L698.12,1571.62 L700.44,1570.72 L702.76,1569.84 L705.08,1568.95 L707.40,1568.08 L709.72,1567.20 L712.03,1566.34 L714.35,1565.47 L716.67,1564.61 L718.99,1563.76 L721.31,1562.91 L723.63,1562.06 L725.95,1561.22 L728.26,1560.39 L730.58,1559.55 L732.90,1558.73 L735.22,1557.90 L737.54,1557.08 L739.86,1556.27 L742.17,1555.46 L744.49,1554.65 L746.81,1553.85 L749.13,1553.05 L751.45,1552.26 L753.77,1551.47 L756.09,1550.69 L758.40,1549.90 L760.72,1549.13 L763.04,1548.35 L765.36,1547.59 L767.68,1546.82 L770.00,1546.06 L772.31,1545.30 L774.63,1544.55 L776.95,1543.80 L779.27,1543.06 L781.59,1542.31 L783.91,1541.58 L786.23,1540.84 L788.54,1540.11 L790.86,1539.39 L793.18,1538.67 L795.50,1537.95 L797.82,1537.23 L800.14,1536.52 L802.45,1535.81 L804.77,1535.11 L807.09,1534.41 L809.41,1533.71 L811.73,1533.02 L814.05,1532.33 L816.37,1531.64 L818.68,1530.96 L821.00,1530.28 L823.32,1529.61 L825.64,1528.94 L827.96,1528.27 L830.28,1527.60 L832.59,1526.94 L834.91,1526.28 L837.23,1525.63 L839.55,1524.98 L841.87,1524.33 L844.19,1523.68 L846.51,1523.04 L848.82,1522.41 L851.14,1521.77 L853.46,1521.14 L855.78,1520.51 L858.10,1519.89 L860.42,1519.27 L862.73,1518.65 L865.05,1518.03 L867.37,1517.42 L869.69,1516.81 L872.01,1516.21 L874.33,1515.60 L876.65,1515.00 L878.96,1514.41 L881.28,1513.82 L883.60,1513.23 L885.92,1512.64 L888.24,1512.06 L890.56,1511.47 L892.87,1510.90 L895.19,1510.32 L897.51,1509.75 L899.83,1509.18 L902.15,1508.62 L904.47,1508.05 L906.79,1507.50 L909.10,1506.94 L911.42,1506.39 L913.74,1505.83 L916.06,1505.29 L918.38,1504.74 L920.70,1504.20 L923.01,1503.66 L925.33,1503.13 L927.65,1502.59 L929.97,1502.06 L932.29,1501.53 L934.61,1501.01 L936.93,1500.49 L939.24,1499.97 L941.56,1499.45 L943.88,1498.94 L946.20,1498.43 L948.52,1497.92 L950.84,1497.42 L953.15,1496.91 L955.47,1496.41 L957.79,1495.92 L960.11,1495.42 L962.43,1494.93 L964.75,1494.44 L967.07,1493.96 L969.38,1493.48 L971.70,1493.00 L974.02,1492.52 L976.34,1492.04 L978.66,1491.57 L980.98,1491.10 L983.29,1490.63 L985.61,1490.17 L987.93,1489.71 L990.25,1489.25 L992.57,1488.79 L994.89,1488.34 L997.21,1487.89 L999.52,1487.44 L1001.84,1486.99 L1004.16,1486.55 L1006.48,1486.11 L1008.80,1485.67 L1011.12,1485.23 L1013.43,1484.80 L1015.75,1484.37 L1018.07,1483.94 L1020.39,1483.51 L1022.71,1483.09 L1025.03,1482.67 L1027.34,1482.25 L1029.66,1481.84 L1031.98,1481.42 L1034.30,1481.01 L1036.62,1480.60 L1038.94,1480.20 L1041.26,1479.79 L1043.57,1479.39 L1045.89,1478.99 L1048.21,1478.60 L1050.53,1478.20 L1052.85,1477.81 L1055.17,1477.42 L1057.48,1477.04 L1059.80,1476.65 L1062.12,1476.27 L1064.44,1475.89 L1066.76,1475.52 L1069.08,1475.14 L1071.40,1474.77 L1073.71,1474.40 L1076.03,1474.03 L1078.35,1473.67 L1080.67,1473.31 L1082.99,1472.95 L1085.31,1472.59 L1087.62,1472.23 L1089.94,1471.88 L1092.26,1471.53 L1094.58,1471.18 L1096.90,1470.83 L1099.22,1470.49 L1101.54,1470.15 L1103.85,1469.81 L1106.17,1469.47 L1108.49,1469.14 L1110.81,1468.81 L1113.13,1468.48 L1115.45,1468.15 L1117.76,1467.82 L1120.08,1467.50 L1122.40,1467.18 L1124.72,1466.86 L1127.04,1466.54 L1129.36,1466.23 L1131.68,1465.92 L1133.99,1465.61 L1136.31,1465.30 L1138.63,1464.99 L1140.95,1464.69 L1143.27,1464.39 L1145.59,1464.09 L1147.90,1463.79 L1150.22,1463.50 L1152.54,1463.21 L1154.86,1462.92 L1157.18,1462.63 L1159.50,1462.35 L1161.82,1462.06 L1164.13,1461.78 L1166.45,1461.50 L1168.77,1461.23 L1171.09,1460.95 L1173.41,1460.68 L1175.73,1460.41 L1178.04,1460.14 L1180.36,1459.87 L1182.68,1459.61 L1185.00,1459.35 L1187.32,1459.09 L1189.64,1458.83 L1191.96,1458.58 L1194.27,1458.32 L1196.59,1458.07 L1198.91,1457.82 L1201.23,1457.58 L1203.55,1457.33 L1205.87,1457.09 L1208.18,1456.85 L1210.50,1456.61 L1212.82,1456.38 L1215.14,1456.14 L1217.46,1455.91 L1219.78,1455.68 L1222.10,1455.45 L1224.41,1455.23 L1226.73,1455.01 L1229.05,1454.78 L1231.37,1454.56 L1233.69,1454.35 L1236.01,1454.13 L1238.32,1453.92 L1240.64,1453.71 L1242.96,1453.50 L1245.28,1453.29 L1247.60,1453.09 L1249.92,1452.89 L1252.24,1452.68 L1254.55,1452.49 L1256.87,1452.29 L1259.19,1452.10 L1261.51,1451.90 L1263.83,1451.71 L1266.15,1451.52 L1268.46,1451.34 L1270.78,1451.15 L1273.10,1450.97 L1275.42,1450.79 L1277.74,1450.61 L1280.06,1450.44 L1282.38,1450.26 L1284.69,1450.09 L1287.01,1449.92 L1289.33,1449.75 L1291.65,1449.59 L1293.97,1449.42 L1296.29,1449.26 L1298.60,1449.10 L1300.92,1448.94 L1303.24,1448.79 L1305.56,1448.63 L1307.88,1448.48 L1310.20,1448.33 L1312.52,1448.19 L1314.83,1448.04 L1317.15,1447.90 L1319.47,1447.75 L1321.79,1447.61 L1324.11,1447.48 L1326.43,1447.34 L1328.74,1447.21 L1331.06,1447.08 L1333.38,1446.95 L1335.70,1446.82 L1338.02,1446.69 L1340.34,1446.57 L1342.66,1446.45 L1344.97,1446.33 L1347.29,1446.21 L1349.61,1446.09 L1351.93,1445.98 L1354.25,1445.87 L1356.57,1445.76 L1358.88,1445.65 L1361.20,1445.54 L1363.52,1445.44 L1365.84,1445.34 L1368.16,1445.24 L1370.48,1445.14 L1372.80,1445.04 L1375.11,1444.95 L1377.43,1444.85 L1379.75,1444.76 L1382.07,1444.68 L1384.39,1444.59 L1386.71,1444.50 L1389.02,1444.42 L1391.34,1444.34 L1393.66,1444.26 L1395.98,1444.19 L1398.30,1444.11 L1400.62,1444.04 L1402.94,1443.97 L1405.25,1443.90 L1407.57,1443.83 L1409.89,1443.77 L1412.21,1443.70 L1414.53,1443.64 L1416.85,1443.58 L1419.16,1443.53 L1421.48,1443.47 L1423.80,1443.42 L1426.12,1443.37 L1428.44,1443.32 L1430.76,1443.27 L1433.08,1443.22 L1435.39,1443.18 L1437.71,1443.14 L1440.03,1443.10 L1442.35,1443.06 L1444.67,1443.03 L1446.99,1442.99 L1449.30,1442.96 L1451.62,1442.93 L1453.94,1442.90 L1456.26,1442.88 L1458.58,1442.85 L1460.90,1442.83 L1463.22,1442.81 L1465.53,1442.79 L1467.85,1442.77 L1470.17,1442.76 L1472.49,1442.75 L1474.81,1442.74 L1477.13,1442.73 L1479.44,1442.72 L1481.76,1442.72 L1484.08,1442.71 L1486.40,1442.71" fill="none" stroke="#000" stroke-width="15.6" stroke-linecap="round" stroke-linejoin="round" stroke-dasharray="106.820 61.040 0 61.040 0 61.040" stroke-dashoffset="289.83" clip-path="url(#cc)"/>
<path d="M234.40,2248.80 L291.63,1985.18 L348.87,1721.57 L406.10,1457.95 L406.16,1457.69 L406.22,1457.43 L406.27,1457.18 L406.33,1456.93 L406.39,1456.68 L406.45,1456.44 L406.56,1455.96 L406.68,1455.49 L406.79,1455.04 L406.91,1454.59 L407.02,1454.16 L407.14,1453.73 L407.25,1453.32 L407.36,1452.91 L407.48,1452.52 L407.59,1452.13 L407.71,1451.74 L407.82,1451.37 L407.94,1451.00 L408.05,1450.64 L408.17,1450.28 L408.28,1449.93 L408.40,1449.59 L408.51,1449.25 L408.63,1448.92 L408.74,1448.59 L408.86,1448.27 L408.97,1447.95 L409.09,1447.63 L409.20,1447.33 L409.31,1447.02 L409.43,1446.72 L409.54,1446.43 L409.66,1446.14 L409.77,1445.85 L409.89,1445.57 L410.00,1445.29 L410.12,1445.01 L410.23,1444.74 L410.35,1444.47 L410.46,1444.20 L410.58,1443.94 L410.69,1443.68 L410.81,1443.43 L410.92,1443.18 L411.03,1442.93 L411.15,1442.68 L411.26,1442.44 L411.38,1442.19 L411.49,1441.96 L411.61,1441.72 L411.72,1441.49 L411.84,1441.26 L411.95,1441.03 L412.07,1440.81 L412.18,1440.58 L412.30,1440.36 L412.41,1440.15 L412.53,1439.93 L412.64,1439.72 L412.76,1439.51 L412.87,1439.30 L412.98,1439.09 L413.10,1438.89 L413.21,1438.69 L413.33,1438.49 L413.44,1438.29 L413.56,1438.10 L413.67,1437.90 L413.79,1437.71 L413.90,1437.52 L414.02,1437.33 L414.13,1437.15 L414.30,1436.87 L414.48,1436.60 L414.65,1436.33 L414.82,1436.07 L414.99,1435.81 L415.16,1435.56 L415.34,1435.31 L415.51,1435.06 L415.68,1434.81 L415.85,1434.57 L416.02,1434.34 L416.20,1434.10 L416.37,1433.87 L416.54,1433.64 L416.71,1433.42 L416.88,1433.20 L417.06,1432.98 L417.23,1432.77 L417.40,1432.56 L417.57,1432.35 L417.74,1432.15 L417.92,1431.94 L418.09,1431.74 L418.26,1431.55 L418.43,1431.36 L418.60,1431.16 L418.78,1430.98 L418.95,1430.79 L419.12,1430.61 L419.29,1430.43 L419.47,1430.25 L419.64,1430.08 L419.81,1429.91 L419.98,1429.74 L420.15,1429.57 L420.33,1429.41 L420.50,1429.25 L420.67,1429.09 L420.84,1428.93 L421.01,1428.78 L421.19,1428.63 L421.36,1428.48 L421.53,1428.33 L421.70,1428.18 L421.87,1428.04 L422.05,1427.90 L422.22,1427.76 L422.39,1427.63 L422.56,1427.49 L422.73,1427.36 L422.91,1427.23 L423.14,1427.07 L423.36,1426.90 L423.59,1426.74 L423.82,1426.58 L424.05,1426.43 L424.28,1426.28 L424.51,1426.14 L424.74,1425.99 L424.97,1425.85 L425.20,1425.72 L425.43,1425.59 L425.66,1425.46 L425.89,1425.33 L426.12,1425.21 L426.35,1425.10 L426.58,1424.98 L426.81,1424.87 L427.04,1424.76 L427.26,1424.66 L427.49,1424.56 L427.72,1424.46 L427.95,1424.37 L428.18,1424.28 L428.41,1424.19 L428.64,1424.11 L428.87,1424.02 L429.10,1423.95 L429.33,1423.87 L429.56,1423.80 L429.85,1423.72 L430.13,1423.64 L430.42,1423.56 L430.71,1423.49 L430.99,1423.43 L431.28,1423.37 L431.57,1423.31 L431.85,1423.26 L432.14,1423.22 L432.43,1423.18 L432.71,1423.14 L433.00,1423.11 L433.29,1423.08 L433.57,1423.06 L433.86,1423.04 L434.20,1423.03 L434.55,1423.02 L1486.40,1423.02" fill="none" stroke="#000" stroke-width="15.8" stroke-linejoin="round" stroke-dasharray="15.870 14.650" stroke-dashoffset="30.47" clip-path="url(#cc)"/>
<rect x="1539.1" y="1582.4" width="23.7" height="14.8"/>
<rect x="1577.6" y="1582.4" width="15.4" height="14.8"/>
<rect x="1608.2" y="1582.4" width="15.4" height="14.8"/>
<rect x="1638.4" y="1582.4" width="21.4" height="14.8"/>
<line x1="1547.30" y1="1721.20" x2="1651.60" y2="1721.20" stroke="#000" stroke-width="16.4" stroke-linecap="round"/>
<line x1="1547.10" y1="1854.70" x2="1593.60" y2="1854.70" stroke="#000" stroke-width="16" stroke-linecap="round"/>
<circle cx="1548" cy="1985.9" r="8.5"/>
<circle cx="1578.2" cy="1985.9" r="8.5"/>
<circle cx="1608.2" cy="1985.9" r="8.5"/>
<circle cx="1638.4" cy="1985.9" r="8.5"/>
<text transform="translate(194.70,945.40) scale(0.9500,1)" font-size="74" font-weight="normal">0</text>
<text transform="translate(143.80,770.60) scale(0.9500,1)" font-size="74" font-weight="normal">0.2</text>
<text transform="translate(140.55,596.00) scale(0.9500,1)" font-size="74" font-weight="normal">0.4</text>
<text transform="translate(141.50,421.60) scale(0.9500,1)" font-size="74" font-weight="normal">0.6</text>
<text transform="translate(140.80,246.70) scale(0.9500,1)" font-size="74" font-weight="normal">0.8</text>
<text transform="translate(196.50,72.10) scale(0.8000,1)" font-size="74" font-weight="normal">1</text>
<text transform="translate(275.37,1030.60) scale(0.9800,1)" font-size="74" font-weight="normal">0</text>
<text transform="translate(446.14,1030.60) scale(0.9800,1)" font-size="74" font-weight="normal">100</text>
<text transform="translate(655.61,1030.60) scale(0.9800,1)" font-size="74" font-weight="normal">200</text>
<text transform="translate(866.62,1030.60) scale(0.9800,1)" font-size="74" font-weight="normal">300</text>
<text transform="translate(1076.09,1030.60) scale(0.9800,1)" font-size="74" font-weight="normal">400</text>
<text transform="translate(1286.12,1030.60) scale(0.9800,1)" font-size="74" font-weight="normal">500</text>
<text transform="translate(1495.11,1030.60) scale(0.9800,1)" font-size="74" font-weight="normal">600</text>
<text transform="translate(676.03,1124.00) scale(0.9691,1)" font-size="73" font-weight="bold">Temperature (°C)</text>
<text transform="translate(1009.78,1238.00) scale(1.0041,1)" font-size="86" font-weight="normal">(<tspan font-weight="bold">b</tspan>)</text>
<text transform="translate(1784.02,456.00) scale(0.9805,1)" font-size="68" font-weight="normal">ky,θ - 1%</text>
<text transform="translate(1784.01,610.80) scale(0.9917,1)" font-size="68" font-weight="normal">kE,θ</text>
<text transform="translate(80.00,648.26) rotate(-90) scale(1.0825,1)" font-size="76.5" font-weight="bold">k</text>
<text transform="translate(97.10,601.80) rotate(-90) scale(0.8481,1)" font-size="55" font-weight="bold">y</text>
<text transform="translate(93.00,581.04) rotate(-90) scale(0.8364,1)" font-size="55" font-weight="bold">,</text>
<text transform="translate(93.60,569.13) rotate(-90) scale(1.0143,1)" font-size="47" font-weight="bold">θ</text>
<text transform="translate(93.00,533.84) rotate(-90) scale(0.8364,1)" font-size="55" font-weight="bold">,</text>
<text transform="translate(80.00,511.05) rotate(-90) scale(1.0750,1)" font-size="76.5" font-weight="bold">k</text>
<text transform="translate(97.10,465.01) rotate(-90) scale(1.0061,1)" font-size="55.5" font-weight="bold">E</text>
<text transform="translate(93.00,427.15) rotate(-90) scale(0.9455,1)" font-size="55" font-weight="bold">,</text>
<text transform="translate(97.60,414.12) rotate(-90) scale(1.0083,1)" font-size="54.2" font-weight="bold">θ</text>
<text transform="translate(156.62,2266.30) scale(0.9600,1)" font-size="60" font-weight="normal">0</text>
<text transform="translate(116.88,2101.54) scale(0.9600,1)" font-size="60" font-weight="normal">0.2</text>
<text transform="translate(114.96,1936.78) scale(0.9600,1)" font-size="60" font-weight="normal">0.4</text>
<text transform="translate(115.92,1772.02) scale(0.9600,1)" font-size="60" font-weight="normal">0.6</text>
<text transform="translate(116.22,1607.26) scale(0.9600,1)" font-size="60" font-weight="normal">0.8</text>
<text transform="translate(158.20,1442.50) scale(0.8000,1)" font-size="60" font-weight="normal">1</text>
<text transform="translate(182.20,2334.50) scale(1.0000,1)" font-size="60" font-weight="normal">0.00</text>
<text transform="translate(432.60,2334.50) scale(1.0000,1)" font-size="60" font-weight="normal">0.20</text>
<text transform="translate(683.00,2334.50) scale(1.0000,1)" font-size="60" font-weight="normal">0.40</text>
<text transform="translate(933.40,2334.50) scale(1.0000,1)" font-size="60" font-weight="normal">0.60</text>
<text transform="translate(1183.80,2334.50) scale(1.0000,1)" font-size="60" font-weight="normal">0.80</text>
<text transform="translate(1434.20,2334.50) scale(1.0000,1)" font-size="60" font-weight="normal">1.00</text>
<text transform="translate(1661.17,1612.60) scale(0.9652,1)" font-size="63" font-weight="normal">EC3<tspan dy="4.5">_</tspan><tspan dy="-4.5">mod 20°C</tspan></text>
<text transform="translate(1661.17,1746.50) scale(0.9671,1)" font-size="63" font-weight="normal">EC3<tspan dy="4.5">_</tspan><tspan dy="-4.5">mod 400°C</tspan></text>
<text transform="translate(1661.17,1879.00) scale(0.9671,1)" font-size="63" font-weight="normal">EC3<tspan dy="4.5">_</tspan><tspan dy="-4.5">mod 500°C</tspan></text>
<text transform="translate(1661.17,2012.60) scale(0.9647,1)" font-size="63" font-weight="normal">EC3<tspan dy="4.5">_</tspan><tspan dy="-4.5">mod 600°C</tspan></text>
<text transform="translate(732.98,2412.30) scale(0.9409,1)" font-size="61" font-weight="bold">Strain (%)</text>
<text transform="translate(1017.01,2542.50) scale(0.9466,1)" font-size="86" font-weight="normal">(<tspan font-weight="bold">c</tspan>)</text>
<text transform="translate(78.80,1917.10) rotate(-90) scale(1.1657,1)" font-size="71" font-weight="bold">σ</text>
<text transform="translate(77.50,1864.25) rotate(-90) scale(0.9524,1)" font-size="71" font-weight="bold">/</text>
<text transform="translate(77.00,1842.00) rotate(-90) scale(1.1667,1)" font-size="71" font-weight="bold">f</text>
<text transform="translate(91.40,1819.60) rotate(-90) scale(0.9913,1)" font-size="47" font-weight="bold">y</text>
<text transform="translate(91.40,1797.72) rotate(-90) scale(0.9222,1)" font-size="47" font-weight="bold">,</text>
<text transform="translate(91.90,1787.07) rotate(-90) scale(1.0350,1)" font-size="47" font-weight="bold">2</text>
<text transform="translate(91.40,1762.24) rotate(-90) scale(1.0700,1)" font-size="47" font-weight="bold">0</text>
</svg>
</body></html>
